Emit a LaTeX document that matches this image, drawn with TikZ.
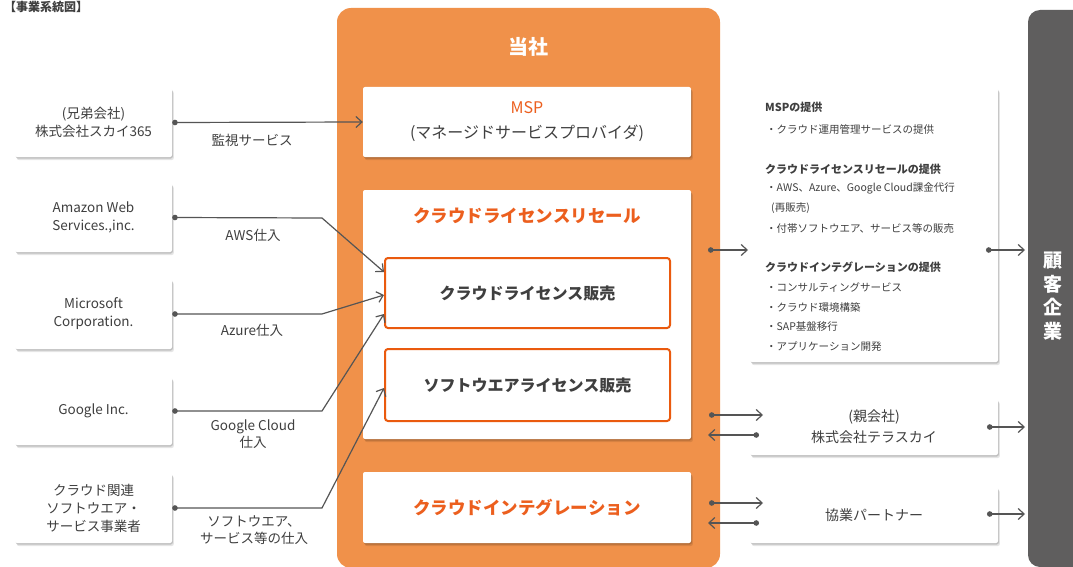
\documentclass[tikz,border=0pt]{standalone}
\usepackage{fontspec}
\setmainfont{Noto Sans CJK JP}
\usetikzlibrary{arrows.meta,shadows,calc}
\definecolor{orng}{HTML}{F0914A}
\definecolor{orngtxt}{HTML}{EC5F1E}
\definecolor{orngline}{HTML}{EA5A0E}
\definecolor{txtgray}{HTML}{3F3F3F}
\definecolor{linegray}{HTML}{555555}
\definecolor{custgray}{HTML}{5F5E5E}
\begin{document}
\begin{tikzpicture}[x=1pt,y=-1pt,
  wbox/.style={fill=white, inner sep=0pt, align=center, text=txtgray, rounded corners=2pt,
    drop shadow={shadow xshift=1.8pt,shadow yshift=-3pt,opacity=0.10,fill=black},
    drop shadow={shadow xshift=0.8pt,shadow yshift=-1.5pt,opacity=0.16,fill=black}},
  srcbox/.style={wbox, minimum width=157, font=\fontsize{13.5}{18}\selectfont},
  lbl/.style={text=txtgray, align=center, inner sep=0pt, font=\fontsize{13.5}{17}\selectfont},
  ttl/.style={text=orngtxt, inner sep=0pt, font=\bfseries\fontsize{17.5}{20}\selectfont},
  salebox/.style={fill=white, draw=orngline, line width=2pt, rounded corners=3pt, inner sep=0pt,
    minimum width=285, text=txtgray, font=\bfseries\fontsize{16}{20}\selectfont},
  hd/.style={anchor=west, inner sep=0pt, text=txtgray, font=\bfseries\fontsize{11}{13}\selectfont},
  itm/.style={anchor=west, inner sep=0pt, text=txtgray, font=\fontsize{10.5}{13}\selectfont},
  conn/.style={draw=linegray, line width=1.2pt,
    {Circle[length=5.5pt]}-{Straight Barb[length=6pt,width=11pt]}},
]
\useasboundingbox (0,0) rectangle (1073,567);
\fill[white] (0,0) rectangle (1073,567);

% header
\node[anchor=west, inner sep=0pt, text=txtgray, font=\bfseries\fontsize{12}{14}\selectfont] (hdr) at (4,7) {【事業系統図】};

% suppliers
\node[srcbox, minimum height=69] (sky) at (93.5,122.5) {(兄弟会社)\\株式会社スカイ365};
\node[srcbox, minimum height=69] (aws) at (93.5,217.5) {Amazon Web\\Services.,inc.};
\node[srcbox, minimum height=70] (ms) at (93.5,314) {Microsoft\\Corporation.};
\node[srcbox, minimum height=68] (gg) at (93.5,411) {Google Inc.};
\node[srcbox, minimum height=70] (sw) at (93.5,508) {クラウド関連\\ソフトウエア・\\サービス事業者};

% company block
\node[fill=orng, rounded corners=14pt, minimum width=383, minimum height=560, inner sep=0pt] (co) at (528.5,288) {};
\node[text=white, inner sep=0pt, font=\bfseries\fontsize{20}{22}\selectfont] (tosha) at (528,47) {当社};

\node[wbox, minimum width=328, minimum height=70, font=\fontsize{16}{25}\selectfont] (msp) at (527,122)
  {\textcolor{orngtxt}{MSP}\\(マネージドサービスプロバイダ)};

\node[wbox, minimum width=328, minimum height=249] (resale) at (527,314.5) {};
\node[ttl] (resaleT) at (527,216) {クラウドライセンスリセール};
\node[salebox, minimum height=70] (sale1) at (527.5,293) {クラウドライセンス販売};
\node[salebox, minimum height=72] (sale2) at (527.5,385) {ソフトウエアライセンス販売};

\node[wbox, minimum width=328, minimum height=71] (ci) at (527,507.5) {};
\node[ttl] (ciT) at (527,508) {クラウドインテグレーション};

% services panel
\node[wbox, minimum width=248, minimum height=274] (svc) at (874,225) {};
\node[hd]  (p1)  at (765,107) {MSPの提供};
\node[itm] (p2)  at (766,130) {・クラウド運用管理サービスの提供};
\node[hd]  (p3)  at (765,169) {クラウドライセンスリセールの提供};
\node[itm] (p4)  at (766,188) {・AWS、Azure、Google Cloud課金代行};
\node[itm] (p5)  at (771,208) {(再販売)};
\node[itm] (p6)  at (766,228) {・付帯ソフトウエア、サービス等の販売};
\node[hd]  (p7)  at (765,267) {クラウドインテグレーションの提供};
\node[itm] (p8)  at (766,287) {・コンサルティングサービス};
\node[itm] (p9)  at (766,307) {・クラウド環境構築};
\node[itm] (p10) at (766,327) {・SAP基盤移行};
\node[itm] (p11) at (766,347) {・アプリケーション開発};

\node[wbox, minimum width=248, minimum height=56, font=\fontsize{14}{21}\selectfont] (tera) at (874,427)
  {(親会社)\\株式会社テラスカイ};
\node[wbox, minimum width=248, minimum height=56, font=\fontsize{14}{17}\selectfont] (part) at (874,515)
  {協業パートナー};

% customers
\node[fill=custgray, rounded corners=12pt, minimum width=60, minimum height=557, inner sep=0pt] (cust) at (1058,288.5) {};
\node[text=white, align=center, inner sep=0pt, font=\bfseries\fontsize{19}{23.5}\selectfont] (custT) at (1053,296) {顧\\客\\企\\業};

% labels
\node[lbl] (l1) at (252,140) {監視サービス};
\node[lbl] (l2) at (253,235) {AWS仕入};
\node[lbl] (l3) at (252,330) {Azure仕入};
\node[lbl] (l4) at (253,434) {Google Cloud\\仕入};
\node[lbl] (l5) at (254,530) {ソフトウエア、\\サービス等の仕入};

% coordinates
\coordinate (bA) at (322,218);
\coordinate (bB) at (322,314);
\coordinate (bC) at (322,411);
\coordinate (bD) at (322,508);
\coordinate (iA) at (384,272);
\coordinate (iB) at (384,295);
\coordinate (iC) at (384,314);
\coordinate (iD) at (384,388);
\coordinate (o1) at (708,250);
\coordinate (o1e) at (748,250);
\coordinate (s1) at (986,250);
\coordinate (c1) at (1025,250);
\coordinate (t1s) at (709,415);
\coordinate (t1e) at (763,415);
\coordinate (t2s) at (759,435);
\coordinate (t2e) at (708,435);
\coordinate (q1s) at (709,503);
\coordinate (q1e) at (763,503);
\coordinate (q2s) at (759,523);
\coordinate (q2e) at (708,523);
\coordinate (t3s) at (987,427);
\coordinate (c2) at (1025,427);
\coordinate (q3s) at (987,514);
\coordinate (c3) at (1025,514);

% connectors
\draw[conn] (sky.east) -- (msp.west);
\draw[conn] (aws.east) -- (bA) -- (iA);
\draw[conn] (ms.east) -- (bB) -- (iB);
\draw[conn] (gg.east) -- (bC) -- (iC);
\draw[conn] (sw.east) -- (bD) -- (iD);
\draw[conn] (o1) -- (o1e);
\draw[conn] (s1) -- (c1);
\draw[conn] (t1s) -- (t1e);
\draw[conn] (t2s) -- (t2e);
\draw[conn] (q1s) -- (q1e);
\draw[conn] (q2s) -- (q2e);
\draw[conn] (t3s) -- (c2);
\draw[conn] (q3s) -- (c3);
\end{tikzpicture}
\end{document}
